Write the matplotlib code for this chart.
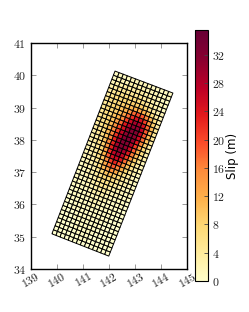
import numpy as np
import matplotlib
matplotlib.use("Agg")
import matplotlib.pyplot as plt
from matplotlib.colors import LinearSegmentedColormap

plt.rcParams['mathtext.fontset'] = 'cm'
plt.rcParams['font.family'] = ['cmr10', 'DejaVu Serif']
plt.rcParams['axes.formatter.use_mathtext'] = True

# fault corners: SW, SE, NW, NE
corner_lon = [139.82, 142.00, 142.24, 144.46]
corner_lat = [35.09, 34.40, 40.13, 39.45]

x_ticks = [139, 140, 141, 142, 143, 144, 145]
y_ticks = [34, 35, 36, 37, 38, 39, 40, 41]
cb_ticks = [0, 4, 8, 12, 16, 20, 24, 28, 32]
slip_max = 35.5

# along-strike rows listed north to south, west to east
slip_rows = [
    [1, 1, 1, 1, 2, 2, 2, 2, 2, 1, 1, 1, 1, 1],
    [1, 2, 2, 2, 3, 3, 3, 3, 2, 2, 2, 1, 1, 1],
    [2, 3, 3, 4, 4, 4, 4, 4, 3, 3, 2, 2, 1, 1],
    [3, 4, 5, 5, 5, 5, 5, 5, 4, 4, 3, 2, 2, 1],
    [4, 5, 6, 6, 7, 7, 7, 7, 6, 5, 4, 3, 2, 1],
    [4, 6, 7, 7, 8, 8, 9, 9, 9, 8, 6, 4, 3, 2],
    [5, 6, 7, 8, 9, 10, 11, 12, 13, 12, 10, 7, 4, 2],
    [5, 6, 8, 9, 10, 12, 15, 18, 20, 19, 16, 11, 7, 3],
    [5, 7, 8, 9, 11, 14, 18, 22, 25, 25, 21, 15, 9, 4],
    [5, 7, 8, 10, 12, 16, 21, 26, 29, 29, 25, 18, 11, 5],
    [5, 6, 8, 10, 14, 18, 24, 28, 31, 31, 27, 19, 11, 5],
    [5, 6, 8, 11, 15, 20, 25, 30, 32, 32, 27, 19, 11, 5],
    [4, 6, 8, 11, 16, 21, 27, 31, 32, 31, 26, 18, 10, 4],
    [4, 5, 7, 11, 16, 22, 28, 32, 33, 30, 24, 16, 9, 4],
    [3, 5, 7, 10, 16, 23, 29, 32, 32, 28, 21, 14, 8, 3],
    [3, 4, 6, 10, 16, 23, 29, 32, 31, 26, 19, 12, 7, 3],
    [3, 4, 6, 9, 15, 23, 29, 31, 29, 24, 17, 11, 6, 3],
    [2, 3, 5, 8, 14, 22, 27, 29, 27, 21, 15, 9, 5, 2],
    [2, 3, 4, 7, 12, 19, 25, 26, 24, 18, 12, 8, 4, 2],
    [2, 3, 4, 6, 10, 16, 21, 23, 20, 15, 10, 6, 3, 2],
    [2, 2, 3, 5, 8, 13, 17, 19, 16, 12, 8, 5, 3, 1],
    [1, 2, 3, 4, 7, 11, 14, 15, 13, 9, 6, 4, 2, 1],
    [1, 2, 2, 3, 5, 8, 10, 11, 9, 7, 5, 3, 2, 1],
    [1, 1, 2, 3, 4, 6, 8, 8, 7, 5, 4, 3, 2, 1],
    [1, 1, 2, 2, 3, 5, 6, 6, 5, 4, 3, 2, 1, 1],
    [1, 1, 1, 2, 3, 4, 5, 5, 4, 3, 2, 2, 1, 1],
    [1, 1, 1, 2, 2, 3, 4, 4, 3, 2, 2, 1, 1, 1],
    [1, 1, 1, 1, 2, 3, 3, 3, 2, 2, 1, 1, 1, 0],
    [0, 1, 1, 1, 2, 2, 2, 2, 2, 1, 1, 1, 1, 0],
    [0, 1, 1, 1, 1, 2, 2, 2, 1, 1, 1, 1, 0, 0],
    [0, 1, 1, 1, 1, 1, 2, 1, 1, 1, 1, 1, 0, 0],
    [0, 0, 1, 1, 1, 1, 1, 1, 1, 1, 1, 0, 0, 0],
    [0, 0, 1, 1, 1, 1, 1, 1, 1, 1, 1, 0, 0, 0],
    [0, 0, 0, 1, 1, 1, 1, 1, 1, 1, 0, 0, 0, 0],
    [0, 0, 0, 1, 1, 1, 1, 1, 1, 1, 0, 0, 0, 0],
    [0, 0, 0, 0, 1, 1, 1, 1, 1, 0, 0, 0, 0, 0],
    [0, 0, 0, 0, 1, 1, 1, 1, 1, 0, 0, 0, 0, 0],
    [0, 0, 0, 0, 0, 1, 1, 1, 0, 0, 0, 0, 0, 0],
    [0, 0, 0, 0, 0, 0, 1, 1, 0, 0, 0, 0, 0, 0],
    [0, 0, 0, 0, 0, 0, 0, 0, 0, 0, 0, 0, 0, 0],
]

slip = np.array(slip_rows, dtype=float)[::-1]
n_rows, n_cols = slip.shape

# bilinear mesh of cell edges across the fault plane
s = np.linspace(0, 1, n_cols + 1)
t = np.linspace(0, 1, n_rows + 1)
S, T = np.meshgrid(s, t)
def plane(c):
    return (c[0]*(1-S)*(1-T) + c[1]*S*(1-T) + c[2]*(1-S)*T + c[3]*S*T)
lon_mesh = plane(corner_lon)
lat_mesh = plane(corner_lat)

cmap = LinearSegmentedColormap.from_list(
    "slip", ["#ffffcc", "#ffeda0", "#fed976", "#feb24c", "#fd8d3c",
             "#fc4e2a", "#e31a1c", "#bd0026", "#8a0030", "#6a0035"])

W, H = 249, 312
fig = plt.figure(figsize=(W/100, H/100), dpi=100)
ax = fig.add_axes([30.5/W, 1-269/H, (187-30.5)/W, (269-43)/H])
m = ax.pcolormesh(lon_mesh, lat_mesh, slip, cmap=cmap, vmin=0, vmax=slip_max,
                  edgecolors='k', linewidth=0.7, antialiased=True)
m.set_snap(False)
ax.set_xlim(139, 145)
ax.set_ylim(34, 41)
ax.set_xticks(x_ticks)
ax.set_yticks(y_ticks)
ax.set_xticklabels([f"${v}$" for v in x_ticks], rotation=30, ha='center', fontsize=8.5, color='#222222')
ax.set_yticklabels([f"${v}$" for v in y_ticks], fontsize=8.5, color='#222222')
ax.tick_params(direction='in', length=3.5, width=0.6, top=True, right=True, color='#888888', pad=3)
ax.tick_params(axis='x', pad=0.5)
for sp in ax.spines.values():
    sp.set_linewidth(1.0)

cax = fig.add_axes([195/W, 1-281/H, 13/W, (281-30)/H])
cb = fig.colorbar(m, cax=cax, ticks=cb_ticks)
cb.solids.set_edgecolor('face')
cb.ax.set_yticklabels([f"${v}$" for v in cb_ticks], fontsize=8.5, color='#222222')
cb.ax.tick_params(direction='in', length=3, width=0.6, color='#444444', pad=3)
cb.outline.set_linewidth(0.8)
cb.set_label("Slip (m)", fontsize=8.5, family='DejaVu Sans', labelpad=0)

fig.savefig("out.png", dpi=100)
